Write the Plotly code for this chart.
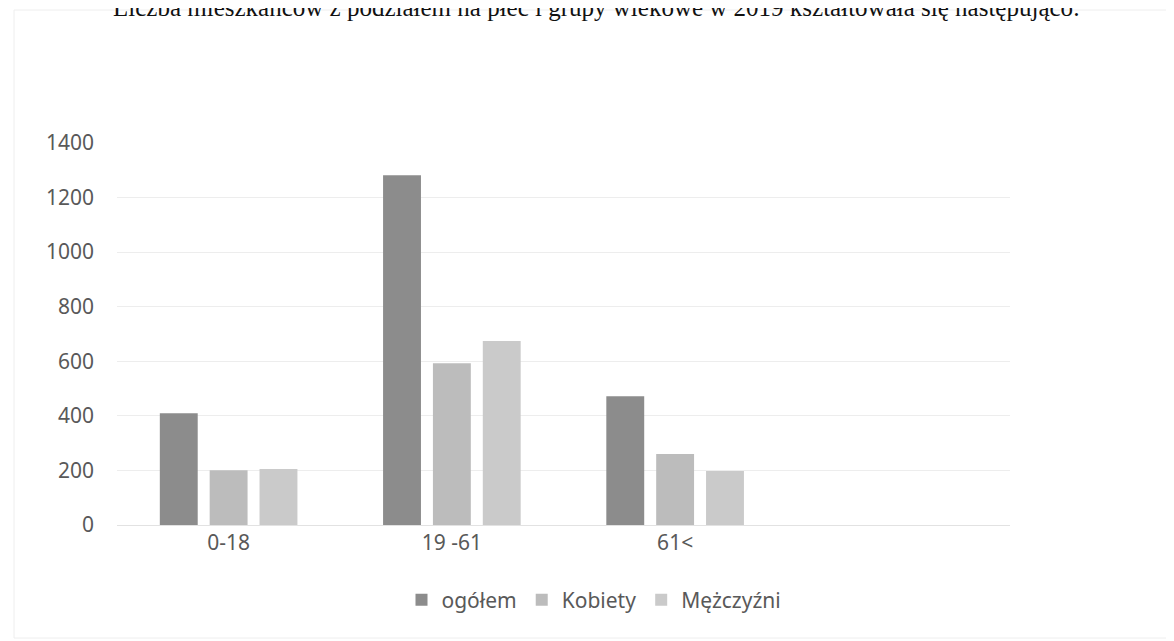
import plotly.graph_objects as go

categories = ["0-18", "19 -61", "61<"]
ogolem = [410, 1282, 472]
kobiety = [201, 593, 260]
mezczyzni = [205, 674, 198]
y_ticks = [0, 200, 400, 600, 800, 1000, 1200, 1400]

series = [
    ("ogółem", ogolem, "#8c8c8c"),
    ("Kobiety", kobiety, "#bcbcbc"),
    ("Mężczyźni", mezczyzni, "#cacaca"),
]

fig = go.Figure()
for name, vals, col in series:
    fig.add_trace(go.Bar(
        x=categories, y=vals, name=name,
        marker=dict(color=col, line=dict(width=0)),
    ))

OFF = 8  # page body margin
W, H = 1174 - OFF, 641 - OFF
L, T = 117 - OFF, 143 - OFF
pw, ph = 893, 382
R, B = W - L - pw, H - T - ph

def px_x(x):
    return (x - OFF - L) / pw

def px_y(y):
    return (H - (y - OFF) - B) / ph

fig.update_layout(
    width=W, height=H,
    margin=dict(l=L, r=R, t=T, b=B, pad=0),
    paper_bgcolor="white", plot_bgcolor="white",
    barmode="group", bargap=0.33, bargroupgap=0.24,
    font=dict(family="Noto Sans", size=21, color="#595959"),
    showlegend=True,
    legend=dict(orientation="h", x=px_x(594), xanchor="center",
                y=px_y(600), yanchor="middle",
                font=dict(size=21, color="#595959"),
                traceorder="normal"),
    xaxis=dict(type="category", categoryorder="array", categoryarray=categories,
               range=[-0.5, 3.5], showgrid=False, showline=False, ticks="",
               tickfont=dict(size=21, color="#595959"), ticklabelstandoff=3),
    yaxis=dict(range=[0, 1400], tickvals=y_ticks, showgrid=True,
               gridcolor="#ededed", gridwidth=1, zeroline=True,
               zerolinecolor="#e2e2e2", zerolinewidth=1, showline=False,
               ticks="", ticklabelstandoff=22,
               tickfont=dict(size=21, color="#595959")),
    annotations=[dict(
        text="Liczba mieszkańców z podziałem na płeć i grupy wiekowe w 2019 kształtowała się następująco:",
        xref="paper", yref="paper", x=px_x(1082), y=px_y(7),
        xanchor="right", yanchor="middle", showarrow=False,
        font=dict(family="Liberation Serif", size=25, color="#111111"),
    )],
    shapes=[dict(type="rect", xref="paper", yref="paper",
                 x0=px_x(14), x1=px_x(1168), y0=px_y(638), y1=px_y(10),
                 line=dict(color="#eeeeee", width=1), layer="below")],
)

fig.write_html("out.html")
